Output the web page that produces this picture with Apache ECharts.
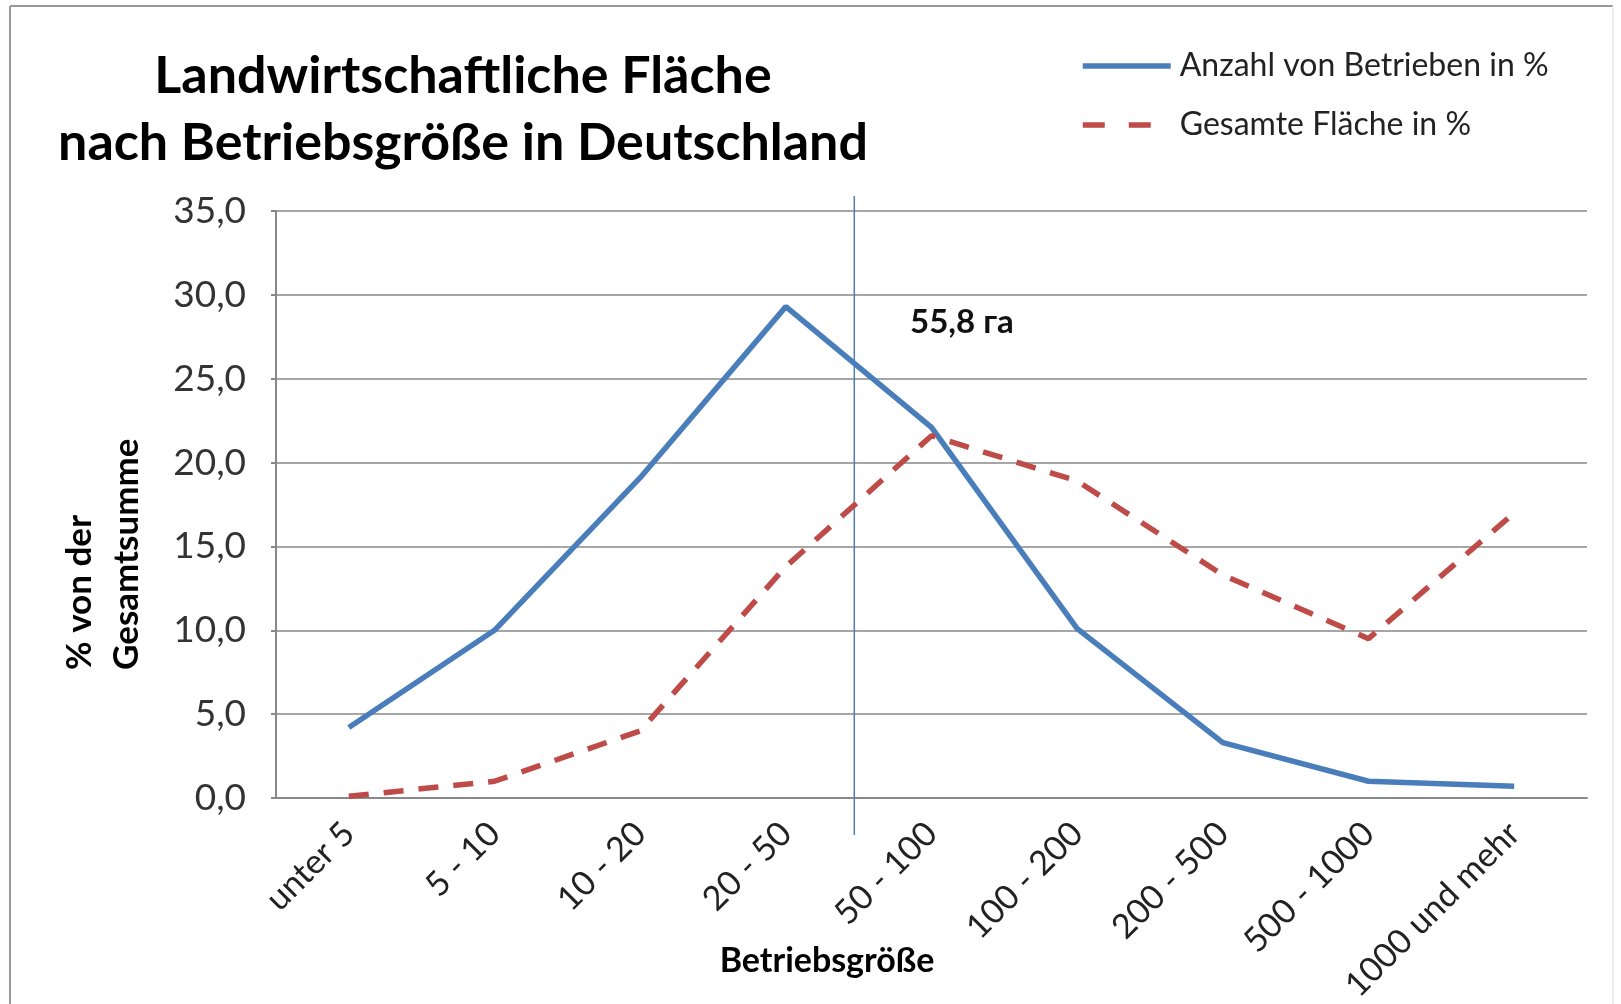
<!DOCTYPE html>
<html>
<head>
<meta charset="utf-8">
<script src="https://cdn.jsdelivr.net/npm/echarts@6/dist/echarts.min.js"></script>
<style>
  html, body { margin: 0; padding: 0; background: #fff; }
  #chart { width: 1621px; height: 1004px; }
</style>
</head>
<body>
<div id="chart"></div>
<script>
// Betriebsgrößenklassen (ha)
const categories = ['unter 5', '5 - 10', '10 - 20', '20 - 50', '50 - 100', '100 - 200', '200 - 500', '500 - 1000', '1000 und mehr'];
// Anzahl von Betrieben in %
const betriebe = [4.2, 10.0, 19.1, 29.3, 22.1, 10.1, 3.3, 1.0, 0.7];
// Gesamte Fläche in %
const flaeche = [0.1, 1.0, 4.0, 13.8, 21.6, 18.9, 13.3, 9.5, 17.0];
// mittlere Betriebsgröße 55,8 ha, Lage auf der Kategorienachse
const avgPos = [3.47];
const avgLabel = '55,8 га';

const font = 'Lato, "Noto Sans", sans-serif';
const chart = echarts.init(document.getElementById('chart'));

const option = {
  animation: false,
  textStyle: { fontFamily: font },
  title: {
    text: 'Landwirtschaftliche Fläche\nnach Betriebsgröße in Deutschland',
    left: 458,
    top: 38,
    textAlign: 'center',
    textStyle: { fontSize: 52, fontWeight: 'bold', color: '#000', lineHeight: 67, fontFamily: font }
  },
  legend: {
    orient: 'vertical',
    left: 1075,
    top: 45,
    itemWidth: 88,
    itemHeight: 14,
    itemGap: 27,
    itemStyle: { opacity: 0 },
    lineStyle: { width: 5.5 },
    textStyle: { fontSize: 32, color: '#222', padding: [0, 0, 0, 4] },
    data: [
      { name: 'Anzahl von Betrieben in %' },
      { name: 'Gesamte Fläche in %', lineStyle: { width: 5.5, type: [22, 24] } }
    ]
  },
  grid: { left: 276, top: 211, right: 34, bottom: 206, outerBoundsMode: 'none' },
  xAxis: [
    {
      type: 'category',
      data: categories,
      boundaryGap: true,
      axisLine: { lineStyle: { color: '#888', width: 2 } },
      axisTick: { alignWithLabel: true, length: 10, lineStyle: { color: '#888', width: 2 } },
      axisLabel: { rotate: 45, margin: 30, fontSize: 34, color: '#222', interval: 0 }
    },
    { type: 'value', min: -0.5, max: 8.5, show: false }
  ],
  yAxis: {
    type: 'value',
    min: 0,
    max: 35,
    interval: 5,
    axisLine: { show: true, onZero: false, lineStyle: { color: '#888', width: 2 } },
    axisTick: { show: true, length: 5, lineStyle: { color: '#888', width: 2 } },
    splitLine: { lineStyle: { color: '#888', width: 1.5 } },
    axisLabel: {
      fontSize: 37, color: '#333', margin: 30,
      formatter: v => v.toFixed(1).replace('.', ',')
    }
  },
  series: [
    {
      name: 'Anzahl von Betrieben in %',
      type: 'line',
      data: betriebe,
      symbol: 'none',
      color: '#4a7ebb',
      lineStyle: { width: 5.5, color: '#4a7ebb' }
    },
    {
      name: 'Gesamte Fläche in %',
      type: 'line',
      data: flaeche,
      symbol: 'none',
      color: '#be4b48',
      lineStyle: { width: 5.5, color: '#be4b48', type: [20, 15] }
    },
    {
      type: 'custom',
      xAxisIndex: 1,
      clip: false,
      silent: true,
      data: avgPos.map(v => [v]),
      renderItem: (params, api) => {
        const top = api.coord([api.value(0), 35]);
        const bottom = api.coord([api.value(0), 0]);
        return {
          type: 'line',
          shape: { x1: top[0], y1: top[1] - 15, x2: bottom[0], y2: bottom[1] + 37 },
          style: { stroke: '#4f7fb3', lineWidth: 1.5 }
        };
      }
    }
  ],
  graphic: [
    { type: 'line', shape: { x1: 10, y1: 6, x2: 1613, y2: 6 }, style: { stroke: '#999', lineWidth: 2 } },
    { type: 'line', shape: { x1: 10, y1: 6, x2: 10, y2: 1004 }, style: { stroke: '#999', lineWidth: 2 } },
    { type: 'line', shape: { x1: 1613, y1: 6, x2: 1613, y2: 1004 }, style: { stroke: '#eee', lineWidth: 2 } },
    {
      type: 'text', x: 910, y: 322,
      style: { text: avgLabel, fontSize: 33, fontWeight: 'bold', fill: '#111', verticalAlign: 'middle', fontFamily: font }
    },
    {
      type: 'text', x: 827, y: 961,
      style: { text: 'Betriebsgröße', fontSize: 34, fontWeight: 'bold', fill: '#000', align: 'center', verticalAlign: 'middle', fontFamily: font }
    },
    {
      type: 'text', x: 103, y: 670, rotation: Math.PI / 2,
      style: {
        text: '% von der\nGesamtsumme', fontSize: 35, fontWeight: 'bold', fill: '#000',
        align: 'left', verticalAlign: 'middle', lineHeight: 47, fontFamily: font
      }
    }
  ]
};

chart.setOption(option);
</script>
</body>
</html>
